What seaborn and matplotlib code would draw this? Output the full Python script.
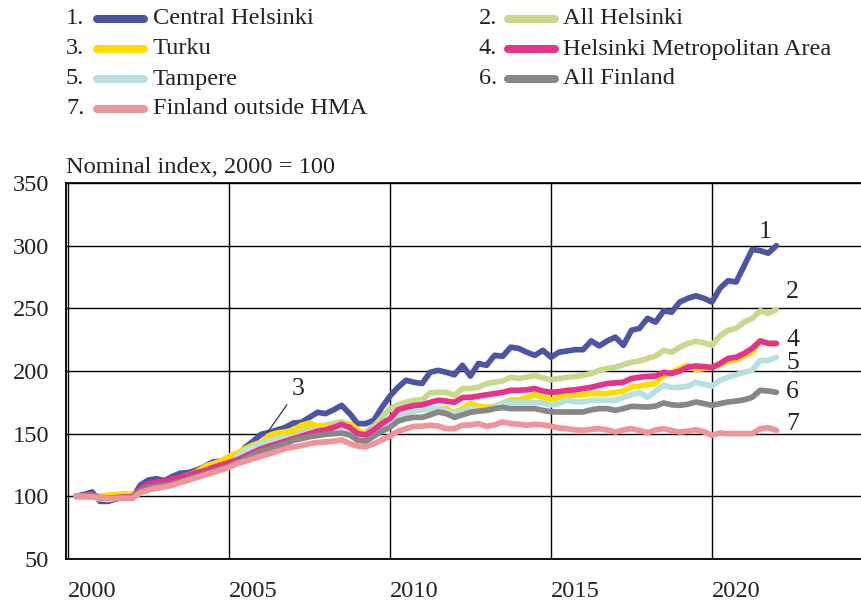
import matplotlib

matplotlib.use("Agg")
import matplotlib.pyplot as plt
import numpy as np
import pandas as pd
import seaborn as sns
from matplotlib.lines import Line2D

# Quarterly index values, 2000 = 100
central_helsinki = [
    100, 101.5, 103.5, 96, 96, 98, 99, 98.5, 109, 113, 114, 112.5,
    116, 118.5, 119, 121, 124, 127.4, 128, 129, 131, 139, 144, 149.5,
    151, 153, 155, 158.5, 159, 163, 167, 166, 169, 172.6, 166, 158,
    158, 160.7, 171, 180, 187, 192.6, 191, 190, 199, 200.5, 199, 197,
    204.5, 196, 206, 204.5, 212.5, 211.7, 219, 218, 215, 212.5, 216.5, 211,
    215, 216, 217, 217, 224, 220, 224, 227, 220.5, 232.5, 234, 242,
    239, 248, 247, 255, 258, 260, 258, 255, 266, 272, 271, 284,
    297, 296, 294, 300,
]
all_helsinki = [
    100, 100.5, 101, 99, 98.5, 99, 99.5, 99.5, 105, 109, 111, 111,
    113, 115, 117, 119, 121, 123, 125, 127, 130, 134, 138, 142,
    145, 147, 149, 151, 153, 155, 156, 157, 158, 159.5, 157, 150,
    151, 156, 163, 170, 173, 175, 176.5, 177, 182.5, 183, 183, 180.5,
    186, 186, 187, 190, 191, 192, 195, 194, 195, 196.5, 194.5, 193,
    194, 195, 195.5, 196.6, 198, 200.6, 202, 203, 205, 207, 208, 210,
    212, 216.5, 215, 219, 222, 223.7, 222.5, 220.5, 228, 232.5, 234, 239,
    242, 248, 246, 249,
]
turku = [
    100, 100, 100.5, 100, 101, 101.5, 102, 101.5, 104, 108, 110, 111,
    113, 115, 117, 119.5, 124, 126, 128, 132, 134.5, 138, 141, 143,
    148.7, 150.5, 151.5, 152.7, 156.7, 158.5, 156, 155, 155, 155.5, 158, 153,
    148, 153, 157, 160.6, 163, 166, 168, 170, 169, 170, 170, 167,
    170, 174, 172, 171, 172, 174, 177, 177, 179, 181, 179, 177,
    179, 180, 180.6, 181, 182, 182, 182, 183, 184, 187, 188, 189,
    190, 196.6, 199, 202, 204.5, 201, 202, 203, 205, 208, 209, 212,
    215, 224, 222, 222,
]
helsinki_metro = [
    100, 100.5, 101, 99, 98.5, 99, 99.5, 99.5, 106, 110, 111.5, 112,
    114, 115, 117, 119, 120.5, 123, 125, 127, 129, 132, 135, 138,
    140, 142, 144, 146, 148, 150, 152, 153, 155, 157.5, 155, 150,
    149, 153, 158, 162, 169, 171, 172.5, 173, 175, 176.6, 176, 175,
    178.8, 179, 180, 181, 182, 183, 184.6, 184.6, 185, 186, 184, 183,
    183.5, 184.5, 185, 186, 187, 188.6, 190, 190.5, 191, 194, 195, 195.7,
    196, 199, 198, 200, 203, 204, 203.5, 202.7, 206, 210, 211, 214,
    218, 224, 222, 222,
]
tampere = [
    100, 99.5, 99.5, 98, 97.5, 98.5, 99, 99, 103, 107, 109, 110,
    112, 114, 116, 118, 120, 122, 124, 126, 131, 136.7, 139, 142,
    144, 146, 147, 147, 149, 151, 152.7, 153, 154, 155, 153, 147,
    148, 151, 154, 157, 163, 166, 168.6, 169, 170, 170, 168, 166,
    168, 170, 169, 168.6, 171, 174.5, 175, 175, 175, 175, 174.5, 173,
    174, 176.6, 175.5, 175.3, 176.6, 176.6, 176.6, 176.6, 179, 181, 183, 179,
    184, 188.6, 186.8, 187, 187.8, 191, 189.5, 188, 192.6, 195, 197, 199,
    200.6, 208.5, 208.5, 211,
]
all_finland = [
    100, 100, 100, 99, 98.5, 99, 99, 99, 104, 107, 108, 109,
    110, 112, 114, 116, 118, 120, 122, 124, 127, 130, 133, 136,
    138, 140, 142, 144.7, 146, 147.5, 148.5, 149.5, 150, 150.5, 149, 144.7,
    144, 148, 152, 155, 160, 162, 163, 163, 165, 167.3, 166, 163,
    165, 167, 168, 168.6, 170, 170.8, 170, 170, 170, 170, 168.6, 167.5,
    167.3, 167.3, 167.3, 167.3, 169, 170, 170, 168.6, 170, 171.8, 171.5, 171.3,
    172, 174.5, 173, 172.6, 173.5, 175.3, 174, 172.6, 174, 175.3, 176, 177,
    179, 184.6, 184, 183,
]
outside_hma = [
    100, 100, 99.5, 99, 98.5, 98.5, 98.5, 98.5, 103, 105, 106.5, 107.5,
    109, 111, 113, 115, 117, 119, 121, 123, 126, 128, 130, 132,
    134, 136, 138, 139.4, 140.5, 142, 143, 143.4, 144, 145, 142, 140,
    139.4, 142, 145, 148, 152, 154, 155.9, 156, 156.7, 156, 154, 154,
    156.7, 157, 158, 155.9, 157, 159.3, 158, 157.5, 156.7, 157.5, 157, 155.9,
    154.5, 154, 153, 152.7, 153.5, 154, 153, 151.3, 153, 154, 152.5, 150.8,
    153, 154, 152.5, 151.3, 152, 153.2, 151.5, 148.7, 150.5, 150, 150, 150,
    150, 154, 154.8, 152.7,
]

series_names = [
    "Central Helsinki", "All Helsinki", "Turku", "Helsinki Metropolitan Area",
    "Tampere", "All Finland", "Finland outside HMA",
]
series_values = [
    central_helsinki, all_helsinki, turku, helsinki_metro,
    tampere, all_finland, outside_hma,
]
series_colors = [
    "#4b55a3", "#c9d98c", "#ffdc00", "#e8318a",
    "#b7e1e1", "#878787", "#f0939a",
]
draw_order = [
    "Central Helsinki", "All Helsinki", "Turku", "Tampere",
    "Helsinki Metropolitan Area", "All Finland", "Finland outside HMA",
]
year_ticks = [2000, 2005, 2010, 2015, 2020]
index_ticks = [50, 100, 150, 200, 250, 300, 350]

frames = []
for name, vals in zip(series_names, series_values):
    t = 2000 + 0.25 * np.arange(1, len(vals) + 1)
    frames.append(pd.DataFrame({"year": t, "index": vals, "series": name}))
df = pd.concat(frames, ignore_index=True)
palette = dict(zip(series_names, series_colors))

sns.set_style("white")
plt.rcParams["font.family"] = ["Liberation Serif", "DejaVu Serif"]
plt.rcParams["font.size"] = 17.6
plt.rcParams["text.color"] = "#222222"

fig = plt.figure(figsize=(8.62, 6.05), dpi=100)
ax = fig.add_axes([66 / 862, 46 / 605, 796 / 862, 376 / 605])

sns.lineplot(
    data=df, x="year", y="index", hue="series", hue_order=draw_order,
    palette=palette, linewidth=4.1, legend=False, ax=ax,
    solid_capstyle="round", solid_joinstyle="round",
)

ax.set_xlim(1999.94, 2024.66)
ax.set_ylim(50, 350)
ax.set_xticks(year_ticks)
ax.set_yticks(index_ticks)
ax.set_xticklabels([str(y) for y in year_ticks], ha="left")
ax.tick_params(axis="x", length=0, pad=16, labelsize=17.6, labelcolor="#222222")
ax.tick_params(axis="y", length=0, pad=12, labelsize=17.6, labelcolor="#222222")
ax.set_xlabel("")
ax.set_ylabel("")
ax.grid(True, color="black", linewidth=1.0)
ax.set_axisbelow(True)
for side in ["left", "bottom", "top"]:
    ax.spines[side].set_color("black")
    ax.spines[side].set_linewidth(1.3)
ax.spines["right"].set_visible(False)

ax.text(0, 1.012, "Nominal index, 2000 = 100", transform=ax.transAxes,
        ha="left", va="bottom", fontsize=17.6)

# End-of-line labels
end_labels = {"1": (2021.45, 311), "2": (2022.3, 263), "4": (2022.3, 225),
              "5": (2022.3, 206), "6": (2022.3, 183), "7": (2022.3, 158)}
for lab, (x, y) in end_labels.items():
    ax.text(x, y, lab, ha="left", va="center", fontsize=18.5)
ax.annotate("3", xy=(2006.2, 151), xytext=(2006.95, 186), fontsize=18.5,
            ha="left", va="center",
            arrowprops=dict(arrowstyle="-", color="#333333", lw=0.9,
                            shrinkA=2, shrinkB=0))

# Legend, two columns: number, line sample, name
for i, (name, color) in enumerate(zip(series_names, series_colors)):
    col, row = i % 2, i // 2
    x0 = [66, 479][col]
    y = 1 - (19 + 30 * row) / 605
    fig.text(x0 / 862, y, f"{i + 1}.", ha="left", va="center", fontsize=17.6)
    lx = [97, 508][col]
    fig.add_artist(Line2D([lx / 862, (lx + 47) / 862], [y, y], color=color,
                          linewidth=5.8, solid_capstyle="round",
                          transform=fig.transFigure))
    tx = [153, 563][col]
    fig.text(tx / 862, y, name, ha="left", va="center", fontsize=17.6)

fig.savefig("out.png", dpi=100)
